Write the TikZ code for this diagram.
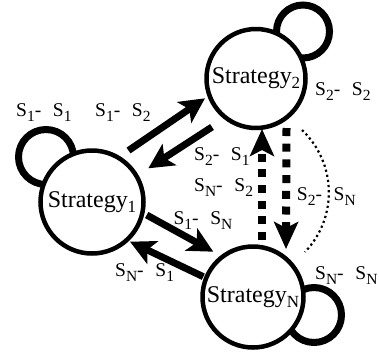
\documentclass[tikz,border=0pt]{standalone}
\usepackage{fontspec}
\setmainfont{Liberation Serif}
\usetikzlibrary{arrows.meta,calc}
\newcommand\lsub[1]{\raisebox{-5pt}{\fontsize{15.5}{15.5}\selectfont #1}}
\newcommand\ssub[1]{\raisebox{-5pt}{\fontsize{17}{17}\selectfont #1}}
\newcommand\pairlab[2]{S\lsub{#1}-\hspace{0.6em}S\lsub{#2}}
\begin{document}
\begin{tikzpicture}[x=1pt,y=-1pt,
  state/.style={circle,draw,line width=4.5pt,fill=white,inner sep=0pt,font=\fontsize{24}{24}\selectfont},
  selfloop/.style={line width=7pt},
  arr/.style={line width=7pt,-{Stealth[length=25pt,width=25pt,inset=6pt]}},
  darr/.style={line width=8pt,dash pattern=on 8pt off 7.7pt,-{Stealth[length=27pt,width=24pt,inset=6pt]}},
  dotarc/.style={line width=2.2pt,dash pattern=on 2.2pt off 3pt},
  lab/.style={anchor=base west,inner sep=0pt,font=\fontsize{19.5}{20}\selectfont}]
\useasboundingbox (0,0) rectangle (379,354);
\coordinate (p1) at (92,202);
\coordinate (p2) at (256,78.5);
\coordinate (pN) at (253,297);
% self loops
\draw[selfloop] ($(p1)+(-46,-45)$) circle (27.5);
\draw[selfloop] ($(p2)+(47,-47)$) circle (26.5);
\draw[selfloop] ($(pN)+(61,18)$) circle (27.5);
% states
\node[state,minimum size=103pt] (s1) at (p1) {Strategy\ssub{1}};
\node[state,minimum size=99pt] (s2) at (p2) {Strategy\ssub{2}};
\node[state,minimum size=101pt] (sN) at (pN) {Strategy\ssub{N}};
% transitions
\draw[arr] ($(s1)+(36.5,-51.5)$) -- ($(s2)+(-51,19.8)$);
\draw[arr] ($(s2)+(-44,48.5)$) -- ($(s1)+(56.3,-33.7)$);
\draw[arr] ($(s1)+(54.7,13)$) -- ($(sN)+(-39.7,-45.3)$);
\draw[arr] ($(sN)+(-49.7,-20.3)$) -- ($(s1)+(38,39.7)$);
\draw[darr] ($(sN)+(9,-57)$) -- ($(s2)+(6,50.5)$);
\draw[darr] ($(s2)+(30.5,49.5)$) -- ($(sN)+(33,-48)$);
\draw[dotarc] ($(s2)+(46,51.5)$) to[bend left=45] ($(sN)+(52,-45)$);
% labels
\node[lab] (l11) at (16,116.7) {\pairlab{1}{1}};
\node[lab] (l12) at (95,116.7) {\pairlab{1}{2}};
\node[lab] (l22) at (315,95) {\pairlab{2}{2}};
\node[lab] (l21) at (194,160) {\pairlab{2}{1}};
\node[lab] (lN2) at (194,191.7) {\pairlab{N}{2}};
\node[lab] (l2N) at (296.7,200) {\pairlab{2}{N}};
\node[lab] (l1N) at (173.3,224) {\pairlab{1}{N}};
\node[lab] (lN1) at (115,276.7) {\pairlab{N}{1}};
\node[lab] (lNN) at (315,279) {\pairlab{N}{N}};
\end{tikzpicture}
\end{document}
